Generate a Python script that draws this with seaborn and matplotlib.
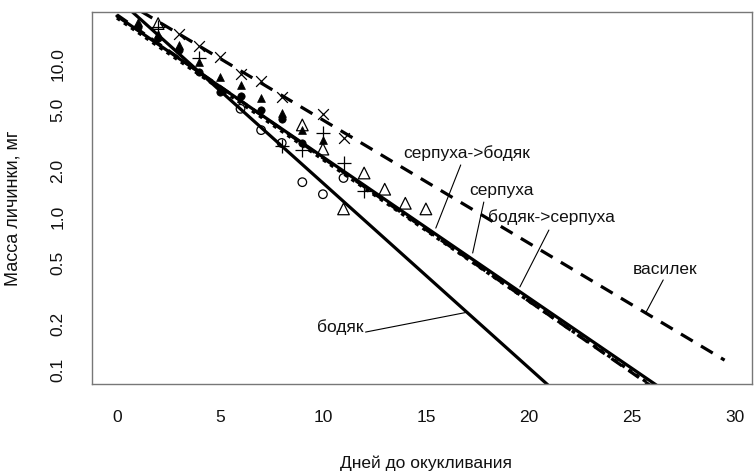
import numpy as np
import pandas as pd
import matplotlib
matplotlib.use("Agg")
import matplotlib.pyplot as plt
from matplotlib.ticker import NullLocator
import seaborn as sns

# ---------------- data ----------------
# fitted lines (days to pupation -> larval mass, mg), endpoints
days_bodyak_line = [0, 21.5]
mass_bodyak_line = [27.0, 0.068]
days_serp_line = [0, 26.6]
mass_serp_line = [20.6, 0.073]
days_serp_bod_line = [0, 26.4]
mass_serp_bod_line = [21.0, 0.071]
days_bod_serp_line = [0, 26.4]
mass_bod_serp_line = [20.0, 0.072]
days_vasilek_line = [0, 29.5]
mass_vasilek_line = [27.5, 0.116]

# observed points
days_bodyak = [6, 7, 8, 9, 10, 11]
mass_bodyak = [5.1, 3.7, 3.05, 1.69, 1.41, 1.80]
days_serp = [2, 9, 10, 11, 12, 13, 14, 15]
mass_serp = [18.4, 4.0, 2.78, 1.13, 1.94, 1.52, 1.23, 1.13]
days_vasilek = [3, 4, 5, 6, 7, 8, 10, 11]
mass_vasilek = [15.7, 13.1, 11.1, 8.6, 7.7, 6.1, 4.7, 3.3]
days_serp_bod = [2, 4, 8, 9, 10, 11, 12]
mass_serp_bod = [17.5, 11.0, 2.91, 2.74, 3.54, 2.25, 1.48]
days_bod_filled = [1, 2, 3, 4, 5, 6, 7, 8, 9]
mass_bod_filled = [17.5, 14.8, 12.3, 8.9, 6.6, 6.2, 5.0, 4.4, 3.05]
days_serp_filled = [1, 2, 3, 4, 5, 6, 7, 8, 9, 10]
mass_serp_filled = [18.8, 15.7, 13.3, 10.3, 8.2, 7.3, 6.0, 4.8, 3.7, 3.2]

x_ticks = [0, 5, 10, 15, 20, 25, 30]
y_ticks = [0.1, 0.2, 0.5, 1.0, 2.0, 5.0, 10.0]
y_tick_labels = ["0.1", "0.2", "0.5", "1.0", "2.0", "5.0", "10.0"]

# annotation labels: text, label position, pointer start, pointer end
ann_text = ["серпуха->бодяк", "серпуха", "бодяк->серпуха", "василек", "бодяк"]
ann_pos = [(16.99, 2.62), (18.69, 1.48), (21.07, 1.0), (26.6, 0.457), (10.83, 0.191)]
ann_ptr_from = [(16.69, 2.19), (17.81, 1.253), (20.97, 0.822), (26.52, 0.388), (12.07, 0.177)]
ann_ptr_to = [(15.48, 0.847), (17.27, 0.582), (19.56, 0.349), (25.69, 0.239), (17.03, 0.239)]

# ---------------- style ----------------
sns.set_style("white")
plt.rcParams["font.family"] = ["Liberation Sans", "DejaVu Sans"]

fig = plt.figure(figsize=(7.55, 4.72), dpi=100)
ax = fig.add_axes([92 / 755, 1 - 384 / 472, 660 / 755, 372 / 472])
ax.set_yscale("log")

lw = 2.3
sns.lineplot(x=days_bodyak_line, y=mass_bodyak_line, ax=ax, color="black", lw=lw)
sns.lineplot(x=days_serp_line, y=mass_serp_line, ax=ax, color="black", lw=lw)
sns.lineplot(x=days_serp_bod_line, y=mass_serp_bod_line, ax=ax, color="black", lw=lw,
             linestyle=(0, (4, 2.5)))
sns.lineplot(x=days_bod_serp_line, y=mass_bod_serp_line, ax=ax, color="black", lw=lw,
             linestyle=(0, (1.2, 1.5)))
sns.lineplot(x=days_vasilek_line, y=mass_vasilek_line, ax=ax, color="black", lw=lw,
             linestyle=(0, (4.3, 3.0)))

sns.scatterplot(x=days_bod_filled, y=mass_bod_filled, ax=ax, marker="o", s=28,
                color="black", edgecolor="black", linewidth=0.5)
sns.scatterplot(x=days_serp_filled, y=mass_serp_filled, ax=ax, marker="^", s=32,
                color="black", edgecolor="black", linewidth=0.5)
sns.scatterplot(x=days_bodyak, y=mass_bodyak, ax=ax, marker="o", s=38,
                facecolor="none", edgecolor="black", linewidth=0.9)
sns.scatterplot(x=days_serp, y=mass_serp, ax=ax, marker="^", s=70,
                facecolor="none", edgecolor="black", linewidth=0.9)
sns.scatterplot(x=days_vasilek, y=mass_vasilek, ax=ax, marker="x", s=60,
                color="black", linewidth=0.9)
sns.scatterplot(x=days_serp_bod, y=mass_serp_bod, ax=ax, marker="+", s=90,
                color="black", linewidth=0.9)

for txt, pos, p0, p1 in zip(ann_text, ann_pos, ann_ptr_from, ann_ptr_to):
    ax.text(pos[0], pos[1], txt, ha="center", va="center", fontsize=12.5, color="#111111")
    ax.plot([p0[0], p1[0]], [p0[1], p1[1]], color="black", lw=0.8)

ax.set_xlim(-1.21, 30.83)
ax.set_ylim(0.081, 21.9)
ax.set_xticks(x_ticks)
ax.set_xticklabels([str(t) for t in x_ticks])
ax.yaxis.set_minor_locator(NullLocator())
ax.set_yticks(y_ticks)
ax.set_yticklabels(y_tick_labels, rotation=90, va="center")
ax.tick_params(axis="both", direction="out", length=6, width=1, color="#555555",
               pad=13, labelsize=12.5, labelcolor="#111111")
ax.tick_params(axis="y", which="minor", length=0)
for s in ax.spines.values():
    s.set_color("#777777")
    s.set_linewidth(1)
ax.set_xlabel("")
ax.set_ylabel("")

fig.text(426 / 755, 1 - 463 / 472, "Дней до окукливания", ha="center", va="center",
         fontsize=12.5, color="#111111")
fig.text(13 / 755, 1 - 208 / 472, "Масса личинки, мг", ha="center", va="center",
         rotation=90, fontsize=13, color="#111111")

fig.savefig("out.png", dpi=100)
